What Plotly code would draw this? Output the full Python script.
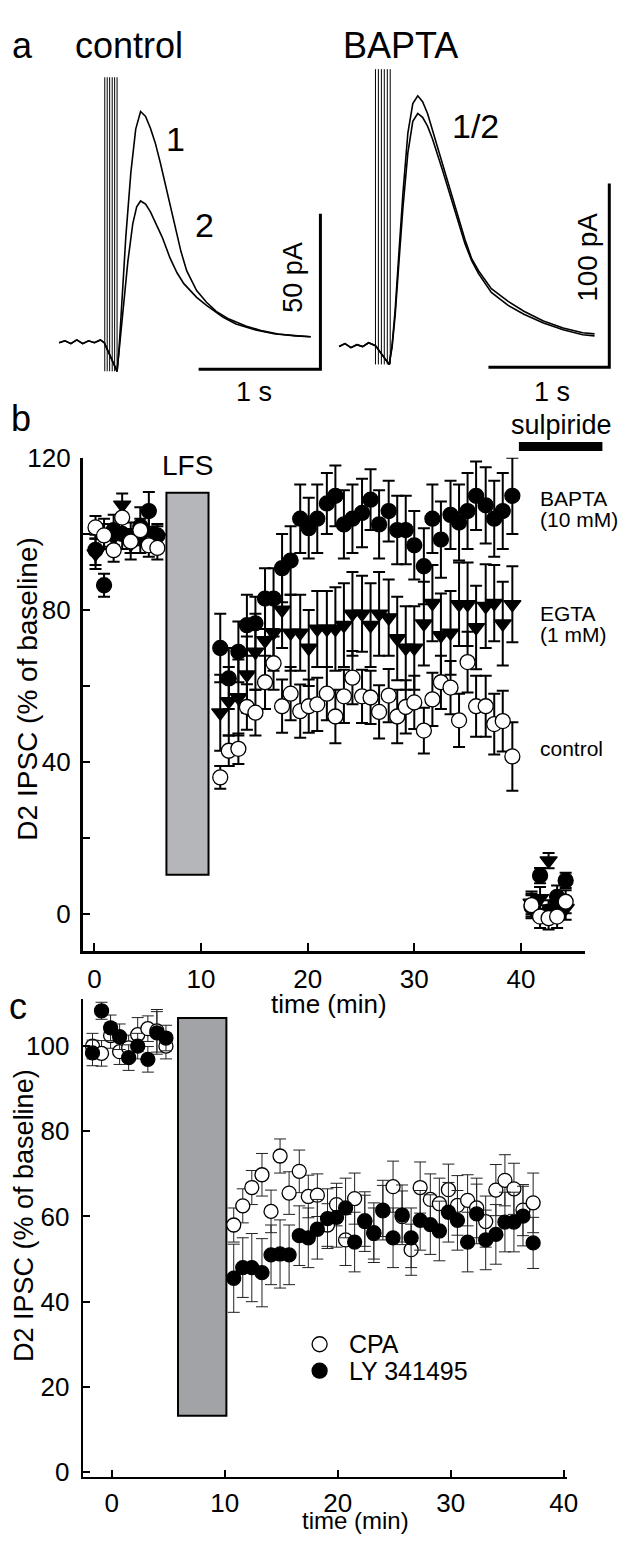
import plotly.graph_objects as go

FONT = "Liberation Sans, Arial, Helvetica, sans-serif"
# The page body keeps its default 8 px margin, so the figure is drawn 8 px in from the
# window corner; positions below are given in window pixels and converted.
OFF = 8
W, H = 637 - OFF, 1544 - OFF

# ---------------- panel a: example traces (time in s, current in pA) ----------------
ctrl_base_t = [-0.371, -0.323, -0.274, -0.226, -0.177, -0.129, -0.081, -0.032, 0.0]
ctrl_base_i = [0.0, 0.6, -0.3, 0.9, -0.3, 0.6, 0.0, 0.9, 0.0]
ctrl1_t = [0.105, 0.121, 0.145, 0.177, 0.218, 0.258, 0.298, 0.339, 0.379, 0.419, 0.46, 0.516,
           0.573, 0.629, 0.677, 0.758, 0.839, 0.919, 1.024, 1.161, 1.298, 1.427, 1.565, 1.694]
ctrl1_i = [-9.2, -2.2, 13.6, 34.2, 54.7, 68.7, 74.4, 72.8, 69.0, 64.2, 57.9, 48.4,
           38.0, 29.4, 23.1, 16.8, 13.0, 10.1, 7.6, 5.4, 3.8, 2.8, 2.2, 1.9]
ctrl2_t = [0.105, 0.121, 0.153, 0.194, 0.234, 0.266, 0.298, 0.339, 0.379, 0.419, 0.476,
           0.540, 0.597, 0.653, 0.758, 0.839, 0.976, 1.081, 1.242, 1.403, 1.565, 1.694]
ctrl2_i = [-9.2, -2.8, 10.4, 26.3, 38.3, 43.7, 45.6, 44.6, 42.1, 38.6, 33.9,
           27.2, 22.5, 19.0, 14.6, 12.0, 8.2, 6.0, 4.1, 2.8, 2.2, 1.9]
ctrl_art_t = [0.004, 0.024, 0.044, 0.065, 0.085, 0.105]
ctrl_art_range = [-9.2, 85.4]

bap_base_t = [-0.301, -0.252, -0.203, -0.154, -0.106, -0.057, 0.0]
bap_base_i = [-0.5, 1.1, -1.1, 0.5, -0.5, 1.6, 0.0]
bap1_t = [0.114, 0.138, 0.163, 0.195, 0.228, 0.268, 0.309, 0.35, 0.39, 0.431, 0.472, 0.553,
          0.634, 0.691, 0.740, 0.797, 0.854, 0.959, 1.098, 1.228, 1.390, 1.553, 1.715, 1.813]
bap1_i = [-10.2, 0.5, 19.3, 51.3, 83.4, 115.5, 131.6, 135.8, 132.6, 126.2, 117.1, 99.5,
          80.7, 69.0, 57.8, 47.1, 40.6, 31.0, 24.1, 18.7, 13.4, 9.6, 7.0, 6.4]
bap2_i = [-10.2, -0.5, 16.6, 46.0, 75.4, 104.8, 121.9, 126.2, 124.1, 119.3, 112.3, 95.7,
          78.1, 66.3, 55.6, 46.0, 39.0, 28.9, 21.9, 17.1, 12.3, 8.6, 5.9, 5.3]
bap_art_t = [0.0, 0.024, 0.049, 0.073, 0.098, 0.122]
bap_art_range = [-10.2, 150.3]

# scale bars: [t0, t1, i0, i1]
ctrl_scale = [0.774, 1.774, -8.5, 41.5]    # 1 s, 50 pA
bap_scale = [0.935, 1.935, -11.8, 88.2]    # 1 s, 100 pA

# ---------------- panel b ----------------
b_base_t = [0.1, 0.9, 1.8, 2.6, 3.4, 4.3, 5.1, 5.9]
b_post_t = [11.8, 12.6, 13.5, 14.3, 15.1, 16.0, 16.8, 17.6, 18.4, 19.3, 20.1, 20.9, 21.8, 22.6,
            23.4, 24.2, 25.1, 25.9, 26.7, 27.6, 28.4, 29.2, 30.0, 30.9, 31.7, 32.5, 33.4, 34.2,
            35.0, 35.8, 36.7, 37.5, 38.3, 39.2]
b_sulp_t = [41.0, 41.8, 42.6, 43.4, 44.2]

bapta_base = [95.8, 86.5, 101.0, 100.0, 99.0, 102.0, 106.0, 99.6]
bapta_base_err = [4, 3, 4, 4, 4, 5, 5, 3]
bapta_post = [70, 62, 69, 76, 76.5, 83, 83, 91, 93, 104, 101.5, 104, 108, 110, 102.5, 104, 105.5,
              109, 102.5, 106, 101, 101, 97, 91.5, 104, 98.5, 105, 103, 106, 110, 107.5, 104, 106, 110]
bapta_post_err = [9, 8, 8, 8, 7, 8, 8, 9, 9, 9, 8, 9, 8, 8, 9, 9, 9, 8, 9, 8, 9, 9, 9, 10,
                  9, 10, 9, 10, 10, 9, 10, 10, 10, 10]
bapta_sulp = [2.0, 10.2, 0.7, 4.6, 8.9]
bapta_sulp_err = [3, 2, 3, 3, 2]

egta_base = [94.8, 100.0, 99.0, 107.6, 97.3, 99.0, 101.0, 99.0]
egta_base_err = [4, 4, 3, 3, 4, 4, 4, 3]
egta_post = [53, 56, 57, 63, 69, 72, 74, 80, 74, 74, 70, 75, 75, 75, 76, 79, 79, 76, 79, 78,
             72.5, 70, 70, 76.4, 81.8, 73.3, 74, 81.5, 81.5, 75.4, 81, 81.8, 76.4, 81.5]
egta_post_err = [10, 9, 10, 10, 10, 10, 10, 10, 10, 10, 10, 10, 10, 11, 11, 11, 10, 11, 11, 10,
                 11, 11, 11, 11, 10, 11, 11, 11, 11, 11, 11, 10, 11, 10]
egta_sulp = [3.0, 4.2, 14.1, 2.5, 1.6]
egta_sulp_err = [3, 3, 2, 3, 3]

ctrl_base = [101.7, 99.6, 95.7, 104.3, 98.0, 101.0, 97.0, 96.3]
ctrl_base_err = [3, 3, 3, 4, 3, 3, 3, 3]
ctrl_post = [36, 43, 43.5, 54.5, 53, 61, 66, 54.7, 58, 53.4, 54.7, 55.2, 58, 52, 57.3, 62.2, 57.3,
             57, 53.2, 57.5, 52, 54.5, 55.7, 48.3, 56.5, 61, 59.6, 51, 66.3, 54.7, 54.7, 50, 50.8, 41.5]
ctrl_post_err = [3, 4, 4, 6, 6, 7, 7, 7, 7, 7, 7, 7, 7, 7, 7, 7, 7, 7, 7, 7, 7, 7, 7, 6, 7, 7,
                 7, 7, 8, 8, 8, 8, 8, 9]
ctrl_sulp = [2.4, -0.6, -1.0, -0.6, 3.3]
ctrl_sulp_err = [3, 3, 3, 3, 3]

# ---------------- panel c ----------------
c_base_t = [-1.7, -0.9, -0.1, 0.7, 1.5, 2.3, 3.2, 4.0, 4.8]
c_post_t = [10.8, 11.6, 12.4, 13.3, 14.1, 14.9, 15.7, 16.6, 17.4, 18.2, 19.1, 19.9, 20.7, 21.5,
            22.4, 23.2, 24.0, 24.9, 25.7, 26.5, 27.3, 28.2, 29.0, 29.8, 30.6, 31.5, 32.3, 33.1,
            34.0, 34.8, 35.6, 36.4, 37.3]
cpa_base = [100.0, 98.3, 102.5, 98.7, 99.6, 102.7, 104.1, 103.6, 100.0]
cpa_base_err = [3, 3, 3, 3, 3, 4, 3, 5, 3]
cpa_post = [58, 62.5, 66.8, 69.8, 61.2, 74.2, 65.5, 70.6, 64.7, 65, 58, 62.8, 54.5, 64.2, 59, 56,
            61.3, 67, 60, 52.2, 66.8, 64, 63, 66.3, 62.6, 63.8, 62, 58.8, 66.2, 68.5, 66.5, 61.5, 63.2]
cpa_post_err = [4, 4, 4, 5, 5, 4, 5, 5, 5, 5, 5, 5, 6, 6, 6, 6, 6, 6, 6, 6, 6, 6, 6, 6, 7, 6,
                7, 6, 6, 6, 6, 6, 7]
ly_base = [98.4, 108.3, 104.3, 102.2, 97.3, 100.0, 96.9, 103.1, 101.9]
ly_base_err = [3, 2, 3, 3, 3, 3, 3, 5, 3]
ly_post = [45.5, 48, 48, 46.8, 51, 51.2, 51, 55.5, 55, 57, 59.5, 59.8, 62, 54, 58.8, 56.2, 61.5,
           55, 60.4, 55, 59.1, 58.1, 56.6, 61, 59.1, 54, 60.6, 54.5, 55.8, 58.7, 58.7, 60.1, 53.8]
ly_post_err = [8, 7, 8, 8, 7, 8, 7, 7, 7, 7, 7, 7, 7, 7, 7, 7, 7, 7, 7, 7, 7, 7, 7, 7, 7, 7,
               7, 7, 7, 7, 7, 7, 6]

lfs_b = [6.75, 10.7, 10.4, 110.8]   # x0, x1, y0, y1
lfs_c = [5.87, 10.15, 13.2, 106.6]

fig = go.Figure()


def add_trace_line(t, i, xa, ya, width=1.6):
    fig.add_trace(go.Scatter(x=t, y=i, mode="lines", line=dict(color="black", width=width),
                             xaxis=xa, yaxis=ya, showlegend=False, hoverinfo="skip"))


def add_artifacts(ts, rng, xa, ya):
    xs, ys = [], []
    for t in ts:
        xs += [t, t, None]
        ys += [rng[0], rng[1], None]
    fig.add_trace(go.Scatter(x=xs, y=ys, mode="lines", line=dict(color="black", width=1),
                             xaxis=xa, yaxis=ya, showlegend=False, hoverinfo="skip"))


def add_scale(sc, xa, ya):
    fig.add_trace(go.Scatter(x=[sc[0], sc[1], sc[1]], y=[sc[2], sc[2], sc[3]], mode="lines",
                             line=dict(color="black", width=3), xaxis=xa, yaxis=ya,
                             showlegend=False, hoverinfo="skip"))


# panel a traces
add_artifacts(ctrl_art_t, ctrl_art_range, "x3", "y3")
add_trace_line(ctrl_base_t + ctrl1_t, ctrl_base_i + ctrl1_i, "x3", "y3")
add_trace_line(ctrl_base_t + ctrl2_t, ctrl_base_i + ctrl2_i, "x3", "y3")
add_scale(ctrl_scale, "x3", "y3")
add_artifacts(bap_art_t, bap_art_range, "x4", "y4")
add_trace_line(bap_base_t + bap1_t, bap_base_i + bap1_i, "x4", "y4")
add_trace_line(bap_base_t + bap1_t, bap_base_i + bap2_i, "x4", "y4")
add_scale(bap_scale, "x4", "y4")


def add_points(t, v, e, symbol, fill, xa, ya, size, ethick, ewidth, ecolor="black"):
    fig.add_trace(go.Scatter(
        x=t, y=v, mode="markers", xaxis=xa, yaxis=ya, showlegend=False,
        marker=dict(symbol=symbol, size=size, color=fill, line=dict(color="black", width=1.3)),
        error_y=dict(type="data", array=e, color=ecolor, thickness=ethick, width=ewidth),
        cliponaxis=False))


# panel b
for t, v, e in [(b_base_t, egta_base, egta_base_err), (b_post_t, egta_post, egta_post_err),
                (b_sulp_t, egta_sulp, egta_sulp_err)]:
    add_points(t, v, e, "triangle-down", "black", "x", "y", 15, 2, 6)
for t, v, e in [(b_base_t, bapta_base, bapta_base_err), (b_post_t, bapta_post, bapta_post_err),
                (b_sulp_t, bapta_sulp, bapta_sulp_err)]:
    add_points(t, v, e, "circle", "black", "x", "y", 15, 2, 6)
for t, v, e in [(b_base_t, ctrl_base, ctrl_base_err), (b_post_t, ctrl_post, ctrl_post_err),
                (b_sulp_t, ctrl_sulp, ctrl_sulp_err)]:
    add_points(t, v, e, "circle", "white", "x", "y", 15, 2, 6)

# panel c
for t, v, e in [(c_base_t, cpa_base, cpa_base_err), (c_post_t, cpa_post, cpa_post_err)]:
    add_points(t, v, e, "circle", "white", "x2", "y2", 14, 1, 6, "#222222")
for t, v, e in [(c_base_t, ly_base, ly_base_err), (c_post_t, ly_post, ly_post_err)]:
    add_points(t, v, e, "circle", "black", "x2", "y2", 14, 1, 6, "#222222")

# panel c legend markers
legend_x = [18.4, 18.4]
legend_y = [30.0, 23.8]
fig.add_trace(go.Scatter(x=legend_x, y=legend_y, mode="markers", xaxis="x2", yaxis="y2",
                         showlegend=False,
                         marker=dict(symbol="circle", size=15, color=["white", "black"],
                                     line=dict(color="black", width=1.3))))


def px(x):
    return (x - OFF) / W


def py(y):
    return 1 - (y - OFF) / H


axis_common = dict(showgrid=False, zeroline=False, showline=True, linecolor="black",
                   ticks="inside", tickcolor="black",
                   tickfont=dict(family=FONT, size=26, color="black"))

fig.update_layout(
    width=W, height=H, margin=dict(l=0, r=0, t=0, b=0),
    paper_bgcolor="white", plot_bgcolor="white", showlegend=False,
    font=dict(family=FONT, color="black"),
    xaxis=dict(domain=[px(84), px(595)], range=[-1.106, 45.99], anchor="y",
               tickvals=[0, 10, 20, 30, 40], linewidth=2.5, tickwidth=2, ticklen=8,
               ticklabelstandoff=3, **axis_common),
    yaxis=dict(domain=[py(951), py(450)], range=[-9.55, 120], anchor="x",
               tickvals=[0, 20, 40, 60, 80, 100, 120],
               ticktext=["0", "", "40", "", "80", "", "120"],
               linewidth=2.5, tickwidth=2, ticklen=8, ticklabelstandoff=4, **axis_common),
    xaxis2=dict(domain=[px(84), px(577)], range=[-2.57, 40.3], anchor="y2",
                tickvals=[0, 10, 20, 30, 40], linewidth=2, tickwidth=2, ticklen=7,
                ticklabelstandoff=2, **axis_common),
    yaxis2=dict(domain=[py(1486), py(1000)], range=[-1.15, 111.1], anchor="x2",
                tickvals=[0, 20, 40, 60, 80, 100],
                linewidth=2, tickwidth=2, ticklen=7, ticklabelstandoff=6, **axis_common),
    xaxis3=dict(domain=[px(50), px(335)], range=[-0.4516, 1.8468], anchor="y3", visible=False),
    yaxis3=dict(domain=[py(375), py(45)], range=[-13.29, 91.14], anchor="x3", visible=False),
    xaxis4=dict(domain=[px(340), px(630)], range=[-0.3415, 2.0163], anchor="y4", visible=False),
    yaxis4=dict(domain=[py(375), py(45)], range=[-20.86, 155.6], anchor="x4", visible=False),
)

shapes = [
    dict(type="rect", xref="x", yref="y", x0=lfs_b[0], x1=lfs_b[1], y0=lfs_b[2], y1=lfs_b[3],
         fillcolor="#b5b6b9", line=dict(color="black", width=2), layer="below"),
    dict(type="rect", xref="x2", yref="y2", x0=lfs_c[0], x1=lfs_c[1], y0=lfs_c[2], y1=lfs_c[3],
         fillcolor="#a2a3a6", line=dict(color="black", width=2), layer="below"),
    dict(type="rect", xref="paper", yref="paper", x0=px(528), x1=px(613), y0=py(443), y1=py(434),
         fillcolor="black", line=dict(width=0)),
]
fig.update_layout(shapes=shapes)


def ann(text, x, y, size, xanchor="center", angle=0, xref="paper", yref="paper"):
    if xref == "paper":
        x = px(x)
    if yref == "paper":
        y = py(y)
    return dict(text=text, x=x, y=y, xref=xref, yref=yref, showarrow=False,
                xanchor=xanchor, yanchor="middle", textangle=angle,
                font=dict(family=FONT, size=size, color="black"))


annotations = [
    ann("a", 23, 31, 36),
    ann("control", 131, 31, 36),
    ann("BAPTA", 407, 31, 36),
    ann("1", 178, 126, 34),
    ann("2", 208, 213, 34),
    ann("1/2", 484, 113, 34),
    ann("50 pA", 298, 266, 27, angle=-90),
    ann("100 pA", 597, 246, 28, angle=-90),
    ann("1 s", 258, 383, 27),
    ann("1 s", 562, 383, 27),
    ann("b", 21, 410, 36),
    ann("LFS", 191, 458, 28),
    ann("sulpiride", 571, 417, 27),
    ann("BAPTA", 547, 491, 21, xanchor="left"),
    ann("(10 mM)", 547, 513, 21, xanchor="left"),
    ann("EGTA", 547, 608, 21, xanchor="left"),
    ann("(1 mM)", 547, 630, 21, xanchor="left"),
    ann("control", 547, 745, 21, xanchor="left"),
    ann("D2 IPSC (% of baseline)", 28, 685, 28, angle=-90),
    ann("time (min)", 335, 1005, 26),
    ann("c", 18, 1008, 36),
    ann("D2 IPSC (% of baseline)", 25, 1220, 27, angle=-90),
    ann("time (min)", 362, 1530, 24),
    ann("CPA", 20.8, 30.0, 25, xanchor="left", xref="x2", yref="y2"),
    ann("LY 341495", 20.8, 23.8, 25, xanchor="left", xref="x2", yref="y2"),
]
fig.update_layout(annotations=annotations)

fig.write_html("out.html")
